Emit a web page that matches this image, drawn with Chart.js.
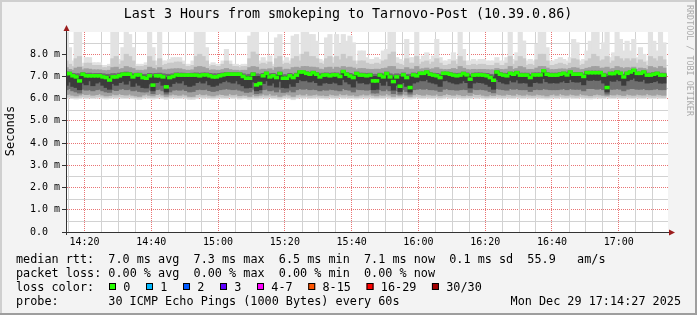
<!DOCTYPE html>
<html>
<head>
<meta charset="utf-8">
<title>Last 3 Hours from smokeping to Tarnovo-Post</title>
<script src="https://cdn.jsdelivr.net/npm/chart.js@4.4.1/dist/chart.umd.min.js"></script>
<style>
    html, body { margin: 0; padding: 0; background: #f3f3f3; }
    canvas { display: block; }
</style>
</head>
<body>
<canvas id="smoke-chart" width="697" height="315"></canvas>
<script>
/**
 * Smokeping latency graph - last 3 hours, one rrd step per minute
 */

// Graph window 14:14:27 -> 17:14:27 (minutes since midnight)
const FIRST_STEP = 14 * 60 + 14.5;   // centre of the first step (14:14-14:15)
const X_MIN = 14 * 60 + 14.45;
const X_MAX = 17 * 60 + 14.75;
const Y_MAX = 9.0;

// Tick labels
const xTickLabels = ['14:20', '14:40', '15:00', '15:20', '15:40', '16:00', '16:20', '16:40', '17:00'];
const yTickLabels = ['0.0  ', '1.0 m', '2.0 m', '3.0 m', '4.0 m', '5.0 m', '6.0 m', '7.0 m', '8.0 m'];

// Median rtt per minute (ms)
const median = [
    7.13, 7.13, 7.03, 6.98, 6.80, 7.10, 7.03, 7.03, 7.03, 7.03,
    7.03, 6.98, 6.95, 6.84, 6.98, 6.98, 7.03, 7.10, 7.10, 7.10,
    6.98, 7.07, 7.07, 6.95, 6.92, 7.03, 6.61, 7.03, 7.03, 6.98,
    6.53, 6.95, 7.00, 7.07, 7.06, 7.06, 7.06, 7.06, 7.06, 7.06,
    7.03, 7.07, 7.07, 7.03, 6.98, 6.98, 7.03, 7.07, 7.10, 7.10,
    7.10, 7.10, 7.10, 7.00, 6.92, 6.92, 7.10, 6.62, 6.68, 7.03,
    7.14, 6.98, 7.03, 6.95, 7.13, 6.92, 6.92, 7.03, 6.95, 7.06,
    7.20, 7.20, 7.14, 7.10, 7.17, 7.10, 6.98, 7.06, 7.07, 7.03,
    7.07, 7.07, 7.00, 7.22, 7.10, 7.02, 6.95, 7.13, 7.06, 7.06,
    7.03, 7.06, 6.80, 6.80, 7.06, 6.98, 7.13, 6.98, 6.77, 6.98,
    6.56, 7.07, 6.95, 6.50, 7.07, 7.03, 7.14, 7.14, 7.20, 7.10,
    7.06, 7.03, 6.95, 7.14, 7.14, 7.10, 7.06, 7.03, 7.06, 7.13,
    7.07, 6.88, 7.06, 7.07, 7.07, 7.06, 7.03, 6.95, 6.83, 7.20,
    7.10, 7.06, 7.03, 7.14, 7.10, 7.17, 7.06, 7.06, 7.06, 6.95,
    7.07, 7.07, 7.07, 7.25, 7.10, 7.06, 7.06, 7.06, 7.10, 7.14,
    7.07, 7.20, 7.10, 7.10, 7.10, 7.00, 7.17, 7.17, 7.17, 7.17,
    7.17, 7.06, 6.50, 7.13, 7.13, 7.20, 7.14, 6.98, 7.14, 7.20,
    7.28, 7.14, 7.14, 7.20, 7.06, 7.06, 7.10, 7.14, 7.06, 7.06
];

// Smoke: slowest ping per minute (graph is clipped at 9 ms)
const smokeMax = [
    9.0, 8.3, 7.7, 9.0, 9.0, 7.6, 7.85, 7.85, 7.62, 7.62,
    7.62, 7.5, 7.5, 7.55, 9.0, 9.0, 7.77, 8.3, 9.0, 8.89,
    8.3, 7.55, 7.55, 7.55, 7.62, 9.0, 8.3, 7.7, 9.0, 7.7,
    7.7, 7.77, 7.85, 7.85, 7.85, 7.7, 7.55, 7.55, 7.7, 9.0,
    9.0, 9.0, 8.3, 7.55, 7.62, 7.55, 7.55, 7.7, 8.22, 7.7,
    7.55, 7.55, 7.47, 7.55, 7.55, 8.82, 9.0, 9.0, 7.7, 7.85,
    7.7, 7.92, 7.55, 8.74, 8.89, 7.7, 7.85, 7.7, 8.82, 8.89,
    8.0, 9.0, 9.0, 8.89, 8.89, 8.59, 7.77, 7.7, 8.74, 8.89,
    7.85, 8.89, 8.45, 8.89, 8.59, 8.82, 8.52, 7.7, 8.15, 8.15,
    7.85, 7.77, 7.77, 7.85, 7.77, 8.15, 8.22, 9.0, 9.0, 7.85,
    7.77, 7.7, 8.67, 7.85, 7.85, 9.0, 7.77, 7.92, 8.07, 7.77,
    7.92, 8.67, 7.85, 7.7, 7.7, 7.77, 8.07, 7.77, 9.0, 8.22,
    7.7, 7.7, 7.77, 7.7, 7.77, 7.77, 7.7, 7.7, 7.7, 7.85,
    7.7, 7.7, 7.85, 9.0, 7.77, 8.07, 9.0, 8.6, 7.7, 7.77,
    7.7, 8.45, 9.0, 9.0, 8.3, 7.7, 7.7, 7.77, 7.85, 7.77,
    7.7, 7.85, 8.67, 8.52, 7.7, 7.77, 8.15, 8.59, 9.0, 9.0,
    8.22, 8.52, 9.0, 7.85, 8.07, 9.0, 8.67, 8.15, 8.59, 8.15,
    8.67, 7.85, 8.3, 8.0, 7.7, 9.0, 8.59, 8.15, 9.0, 8.52
];

// Smoke: fastest ping per minute
const smokeMin = [
    6.0, 6.02, 6.0, 5.98, 6.0, 6.03, 6.0, 6.02, 6.0, 6.01,
    6.03, 6.0, 5.98, 6.0, 6.02, 6.0, 6.03, 6.0, 6.0, 6.02,
    6.0, 5.98, 5.96, 6.0, 6.02, 6.0, 5.98, 6.0, 6.03, 6.0,
    5.96, 6.0, 6.02, 6.0, 6.0, 6.02, 6.0, 5.96, 5.96, 6.0,
    6.03, 6.0, 6.02, 6.0, 5.98, 6.0, 6.02, 6.0, 6.0, 6.03,
    6.0, 6.02, 5.98, 6.0, 6.0, 5.96, 6.0, 5.98, 6.0, 6.02,
    6.0, 6.03, 6.0, 6.0, 5.96, 6.0, 6.02, 6.0, 5.95, 6.0,
    6.02, 6.0, 6.03, 6.0, 6.0, 6.02, 6.0, 6.0, 5.98, 6.02,
    6.0, 6.0, 6.03, 6.0, 6.02, 6.0, 6.0, 5.98, 6.0, 6.02,
    6.0, 6.02, 6.0, 5.98, 6.0, 6.0, 6.03, 6.0, 5.97, 6.0,
    6.0, 6.02, 6.0, 5.98, 6.0, 6.03, 6.0, 6.0, 6.02, 6.0,
    6.0, 6.02, 5.98, 6.0, 6.03, 6.0, 6.0, 6.02, 6.0, 5.98,
    6.0, 6.0, 6.03, 6.0, 6.02, 6.0, 5.98, 6.0, 6.0, 6.02,
    6.0, 6.0, 6.02, 6.0, 6.0, 6.03, 6.0, 6.0, 6.02, 6.0,
    6.0, 6.02, 6.0, 6.0, 5.98, 6.0, 6.02, 6.0, 6.03, 6.0,
    6.0, 6.02, 6.0, 6.0, 6.03, 6.0, 6.0, 5.98, 6.0, 6.02,
    6.0, 6.0, 6.03, 6.0, 6.0, 6.02, 6.0, 6.0, 6.02, 6.0,
    6.0, 6.02, 6.0, 6.0, 6.03, 6.0, 6.0, 6.02, 6.0, 6.0
];

// Smoke: outer quantile band (low / high edge)
const band2Low = [
    6.06, 6.08, 6.05, 6.04, 6.06, 6.09, 6.06, 6.08, 6.05, 6.07,
    6.09, 6.06, 6.04, 6.05, 6.08, 6.06, 6.09, 6.06, 6.05, 6.08,
    6.06, 6.04, 6.03, 6.06, 6.08, 6.05, 6.04, 6.06, 6.09, 6.06,
    6.03, 6.06, 6.08, 6.06, 6.05, 6.08, 6.06, 6.03, 6.03, 6.06,
    6.09, 6.06, 6.08, 6.05, 6.04, 6.06, 6.08, 6.06, 6.05, 6.09,
    6.06, 6.08, 6.04, 6.06, 6.05, 6.03, 6.06, 6.04, 6.06, 6.08,
    6.06, 6.09, 6.05, 6.06, 6.03, 6.06, 6.08, 6.05, 6.02, 6.06,
    6.08, 6.06, 6.09, 6.05, 6.06, 6.08, 6.06, 6.05, 6.04, 6.08,
    6.06, 6.05, 6.09, 6.06, 6.08, 6.05, 6.06, 6.04, 6.06, 6.08,
    6.06, 6.08, 6.05, 6.04, 6.06, 6.05, 6.09, 6.06, 6.03, 6.06,
    6.05, 6.08, 6.06, 6.04, 6.06, 6.09, 6.06, 6.05, 6.08, 6.06,
    6.05, 6.08, 6.04, 6.06, 6.09, 6.06, 6.05, 6.08, 6.06, 6.04,
    6.06, 6.05, 6.09, 6.06, 6.08, 6.05, 6.04, 6.06, 6.05, 6.08,
    6.06, 6.05, 6.08, 6.06, 6.05, 6.09, 6.06, 6.05, 6.08, 6.06,
    6.05, 6.08, 6.06, 6.05, 6.04, 6.06, 6.08, 6.05, 6.09, 6.06,
    6.05, 6.08, 6.06, 6.05, 6.09, 6.06, 6.05, 6.04, 6.06, 6.08,
    6.06, 6.05, 6.09, 6.06, 6.05, 6.08, 6.06, 6.05, 6.08, 6.06,
    6.05, 6.08, 6.06, 6.05, 6.09, 6.06, 6.05, 6.08, 6.06, 6.05
];
const band2High = [
    7.7, 7.55, 7.45, 7.8, 7.9, 7.45, 7.6, 7.6, 7.5, 7.5,
    7.5, 7.4, 7.4, 7.45, 7.8, 7.9, 7.55, 7.7, 8.0, 7.9,
    7.7, 7.45, 7.45, 7.45, 7.5, 7.9, 7.7, 7.5, 7.8, 7.5,
    7.55, 7.6, 7.6, 7.65, 7.65, 7.55, 7.45, 7.45, 7.5, 7.9,
    8.0, 7.9, 7.7, 7.45, 7.5, 7.45, 7.45, 7.55, 7.7, 7.55,
    7.45, 7.45, 7.4, 7.45, 7.45, 7.8, 8.1, 8.0, 7.55, 7.6,
    7.55, 7.65, 7.45, 7.8, 7.9, 7.55, 7.6, 7.55, 7.8, 7.9,
    7.7, 8.0, 8.1, 7.9, 7.9, 7.8, 7.6, 7.55, 7.8, 7.9,
    7.6, 7.9, 7.75, 8.0, 7.8, 7.9, 7.7, 7.55, 7.7, 7.7,
    7.6, 7.55, 7.55, 7.6, 7.55, 7.7, 7.75, 8.0, 8.1, 7.6,
    7.55, 7.5, 7.8, 7.6, 7.6, 7.9, 7.55, 7.65, 7.7, 7.55,
    7.65, 7.8, 7.6, 7.5, 7.5, 7.55, 7.7, 7.55, 7.9, 7.7,
    7.5, 7.5, 7.55, 7.5, 7.55, 7.55, 7.5, 7.5, 7.5, 7.6,
    7.5, 7.5, 7.6, 7.9, 7.55, 7.7, 7.9, 7.8, 7.5, 7.55,
    7.5, 7.75, 8.0, 8.0, 7.7, 7.5, 7.5, 7.55, 7.6, 7.55,
    7.5, 7.6, 7.8, 7.75, 7.5, 7.55, 7.7, 7.8, 8.0, 7.9,
    7.7, 7.75, 7.9, 7.6, 7.7, 7.9, 7.8, 7.7, 7.8, 7.7,
    7.8, 7.6, 7.75, 7.65, 7.5, 7.9, 7.8, 7.7, 7.9, 7.75
];

// Smoke: middle quantile band
const band3Low = [
    6.18, 6.2, 6.15, 6.12, 6.16, 6.22, 6.18, 6.2, 6.15, 6.18,
    6.22, 6.16, 6.12, 6.14, 6.2, 6.17, 6.22, 6.18, 6.16, 6.2,
    6.15, 6.12, 6.1, 6.16, 6.2, 6.15, 6.12, 6.18, 6.22, 6.16,
    6.1, 6.16, 6.2, 6.17, 6.15, 6.2, 6.16, 6.1, 6.1, 6.18,
    6.22, 6.17, 6.2, 6.15, 6.12, 6.16, 6.2, 6.18, 6.15, 6.22,
    6.17, 6.2, 6.13, 6.16, 6.15, 6.1, 6.18, 6.12, 6.15, 6.2,
    6.16, 6.22, 6.15, 6.17, 6.1, 6.15, 6.2, 6.16, 6.1, 6.17,
    6.2, 6.16, 6.22, 6.15, 6.17, 6.2, 6.15, 6.16, 6.13, 6.2,
    6.17, 6.15, 6.22, 6.17, 6.2, 6.15, 6.17, 6.12, 6.16, 6.2,
    6.16, 6.2, 6.15, 6.12, 6.17, 6.15, 6.22, 6.16, 6.1, 6.17,
    6.12, 6.2, 6.16, 6.1, 6.17, 6.22, 6.18, 6.15, 6.2, 6.17,
    6.15, 6.2, 6.13, 6.17, 6.22, 6.18, 6.15, 6.2, 6.17, 6.13,
    6.17, 6.14, 6.22, 6.18, 6.2, 6.15, 6.12, 6.17, 6.14, 6.2,
    6.17, 6.15, 6.2, 6.18, 6.15, 6.22, 6.17, 6.15, 6.2, 6.16,
    6.15, 6.2, 6.17, 6.16, 6.12, 6.17, 6.2, 6.15, 6.22, 6.17,
    6.15, 6.2, 6.17, 6.15, 6.22, 6.17, 6.16, 6.13, 6.17, 6.2,
    6.17, 6.15, 6.12, 6.18, 6.16, 6.2, 6.17, 6.14, 6.2, 6.17,
    6.15, 6.2, 6.17, 6.16, 6.22, 6.17, 6.15, 6.2, 6.17, 6.15
];
const band3High = [
    7.4, 7.32, 7.28, 7.38, 7.42, 7.3, 7.35, 7.33, 7.3, 7.3,
    7.3, 7.27, 7.26, 7.28, 7.4, 7.42, 7.32, 7.36, 7.45, 7.4,
    7.36, 7.28, 7.28, 7.27, 7.3, 7.42, 7.36, 7.3, 7.4, 7.3,
    7.3, 7.33, 7.34, 7.35, 7.35, 7.31, 7.28, 7.28, 7.3, 7.42,
    7.45, 7.42, 7.36, 7.28, 7.3, 7.28, 7.28, 7.31, 7.36, 7.31,
    7.28, 7.28, 7.26, 7.28, 7.28, 7.4, 7.45, 7.42, 7.3, 7.33,
    7.31, 7.35, 7.28, 7.4, 7.42, 7.3, 7.33, 7.31, 7.4, 7.42,
    7.38, 7.45, 7.45, 7.42, 7.42, 7.4, 7.33, 7.31, 7.4, 7.42,
    7.33, 7.42, 7.38, 7.45, 7.4, 7.42, 7.38, 7.31, 7.36, 7.36,
    7.33, 7.32, 7.32, 7.33, 7.32, 7.36, 7.38, 7.45, 7.45, 7.33,
    7.32, 7.31, 7.4, 7.33, 7.33, 7.45, 7.33, 7.35, 7.38, 7.32,
    7.35, 7.4, 7.33, 7.31, 7.31, 7.32, 7.36, 7.32, 7.45, 7.37,
    7.31, 7.3, 7.32, 7.31, 7.32, 7.32, 7.31, 7.3, 7.3, 7.36,
    7.32, 7.31, 7.33, 7.45, 7.32, 7.36, 7.45, 7.4, 7.31, 7.32,
    7.31, 7.38, 7.45, 7.45, 7.38, 7.31, 7.31, 7.32, 7.34, 7.34,
    7.31, 7.36, 7.4, 7.38, 7.31, 7.32, 7.37, 7.4, 7.45, 7.45,
    7.37, 7.38, 7.42, 7.34, 7.36, 7.45, 7.4, 7.36, 7.4, 7.38,
    7.42, 7.33, 7.38, 7.36, 7.31, 7.45, 7.4, 7.36, 7.45, 7.38
];

// Smoke: inner band
const coreLow = [
    6.4, 6.45, 6.35, 6.3, 6.25, 6.42, 6.38, 6.4, 6.35, 6.4,
    6.42, 6.35, 6.3, 6.28, 6.4, 6.36, 6.42, 6.45, 6.4, 6.42,
    6.35, 6.38, 6.32, 6.3, 6.3, 6.38, 6.22, 6.4, 6.42, 6.35,
    6.2, 6.3, 6.38, 6.4, 6.38, 6.42, 6.36, 6.3, 6.32, 6.4,
    6.42, 6.4, 6.42, 6.36, 6.32, 6.35, 6.4, 6.42, 6.45, 6.42,
    6.4, 6.42, 6.38, 6.34, 6.28, 6.3, 6.42, 6.22, 6.25, 6.4,
    6.42, 6.35, 6.38, 6.3, 6.42, 6.28, 6.3, 6.38, 6.3, 6.4,
    6.45, 6.42, 6.45, 6.4, 6.42, 6.4, 6.35, 6.4, 6.38, 6.42,
    6.4, 6.38, 6.35, 6.45, 6.4, 6.38, 6.3, 6.42, 6.4, 6.4,
    6.38, 6.4, 6.25, 6.25, 6.4, 6.35, 6.42, 6.35, 6.22, 6.35,
    6.2, 6.4, 6.32, 6.2, 6.4, 6.42, 6.45, 6.42, 6.45, 6.4,
    6.4, 6.38, 6.32, 6.42, 6.45, 6.4, 6.4, 6.38, 6.4, 6.42,
    6.4, 6.28, 6.42, 6.4, 6.42, 6.4, 6.38, 6.32, 6.26, 6.45,
    6.42, 6.4, 6.38, 6.45, 6.42, 6.45, 6.4, 6.4, 6.4, 6.32,
    6.4, 6.42, 6.4, 6.45, 6.42, 6.4, 6.4, 6.4, 6.42, 6.45,
    6.4, 6.45, 6.42, 6.42, 6.42, 6.35, 6.45, 6.45, 6.45, 6.42,
    6.45, 6.4, 6.2, 6.42, 6.42, 6.45, 6.42, 6.35, 6.42, 6.45,
    6.45, 6.42, 6.42, 6.45, 6.4, 6.4, 6.42, 6.45, 6.4, 6.4
];
const coreHigh = [
    7.2, 7.2, 7.14, 7.12, 7.12, 7.18, 7.14, 7.15, 7.13, 7.14,
    7.14, 7.12, 7.1, 7.1, 7.13, 7.12, 7.15, 7.18, 7.2, 7.18,
    7.12, 7.15, 7.15, 7.1, 7.1, 7.14, 7.12, 7.14, 7.15, 7.12,
    7.1, 7.1, 7.12, 7.16, 7.15, 7.15, 7.14, 7.14, 7.15, 7.16,
    7.14, 7.16, 7.16, 7.14, 7.12, 7.12, 7.14, 7.16, 7.18, 7.18,
    7.18, 7.18, 7.17, 7.12, 7.08, 7.1, 7.18, 7.12, 7.1, 7.14,
    7.2, 7.12, 7.14, 7.1, 7.2, 7.08, 7.08, 7.14, 7.1, 7.15,
    7.26, 7.26, 7.22, 7.18, 7.24, 7.18, 7.12, 7.15, 7.16, 7.14,
    7.16, 7.16, 7.12, 7.28, 7.18, 7.14, 7.1, 7.2, 7.15, 7.15,
    7.14, 7.15, 7.1, 7.1, 7.15, 7.12, 7.2, 7.12, 7.08, 7.12,
    7.1, 7.16, 7.1, 7.1, 7.16, 7.14, 7.2, 7.2, 7.26, 7.18,
    7.15, 7.14, 7.1, 7.2, 7.2, 7.18, 7.15, 7.14, 7.15, 7.2,
    7.16, 7.08, 7.15, 7.16, 7.16, 7.15, 7.14, 7.1, 7.08, 7.26,
    7.18, 7.15, 7.14, 7.2, 7.18, 7.24, 7.15, 7.15, 7.15, 7.1,
    7.16, 7.16, 7.16, 7.3, 7.18, 7.15, 7.15, 7.15, 7.18, 7.2,
    7.16, 7.26, 7.18, 7.18, 7.18, 7.12, 7.24, 7.24, 7.24, 7.24,
    7.24, 7.15, 7.1, 7.2, 7.2, 7.26, 7.2, 7.1, 7.2, 7.26,
    7.32, 7.2, 7.2, 7.26, 7.15, 7.15, 7.18, 7.2, 7.15, 7.15
];

// Smoke: darkest band around the median
const innerLow = [
    6.6, 6.75, 6.55, 6.5, 6.4, 6.7, 6.62, 6.8, 6.58, 6.7,
    6.75, 6.6, 6.5, 6.42, 6.68, 6.6, 6.72, 6.78, 6.65, 6.8,
    6.55, 6.7, 6.6, 6.5, 6.48, 6.66, 6.35, 6.72, 6.78, 6.6,
    6.3, 6.55, 6.68, 6.75, 6.7, 6.8, 6.62, 6.55, 6.6, 6.72,
    6.78, 6.7, 6.8, 6.62, 6.55, 6.6, 6.7, 6.76, 6.82, 6.75,
    6.7, 6.8, 6.66, 6.58, 6.48, 6.5, 6.75, 6.35, 6.4, 6.68,
    6.8, 6.6, 6.7, 6.52, 6.78, 6.5, 6.48, 6.66, 6.55, 6.72,
    6.85, 6.8, 6.82, 6.75, 6.8, 6.72, 6.6, 6.7, 6.72, 6.68,
    6.74, 6.7, 6.62, 6.86, 6.75, 6.66, 6.52, 6.8, 6.7, 6.72,
    6.66, 6.7, 6.4, 6.42, 6.72, 6.6, 6.78, 6.58, 6.38, 6.6,
    6.32, 6.72, 6.55, 6.3, 6.7, 6.75, 6.82, 6.8, 6.86, 6.74,
    6.7, 6.66, 6.55, 6.8, 6.82, 6.75, 6.7, 6.66, 6.7, 6.8,
    6.72, 6.48, 6.7, 6.74, 6.72, 6.7, 6.64, 6.55, 6.42, 6.86,
    6.76, 6.7, 6.66, 6.82, 6.75, 6.84, 6.7, 6.72, 6.7, 6.55,
    6.72, 6.74, 6.7, 6.9, 6.76, 6.7, 6.72, 6.7, 6.75, 6.8,
    6.72, 6.86, 6.76, 6.74, 6.76, 6.62, 6.84, 6.82, 6.85, 6.82,
    6.84, 6.7, 6.3, 6.8, 6.78, 6.86, 6.8, 6.6, 6.8, 6.86,
    6.92, 6.8, 6.78, 6.86, 6.7, 6.72, 6.76, 6.8, 6.7, 6.7
];
const innerHigh = [
    7.15, 7.16, 7.08, 7.04, 7.0, 7.13, 7.08, 7.08, 7.07, 7.08,
    7.08, 7.04, 7.02, 6.98, 7.04, 7.04, 7.08, 7.13, 7.15, 7.14,
    7.04, 7.1, 7.1, 7.02, 7.0, 7.08, 7.0, 7.08, 7.08, 7.04,
    6.95, 7.02, 7.05, 7.1, 7.1, 7.1, 7.1, 7.1, 7.1, 7.1,
    7.08, 7.1, 7.1, 7.08, 7.04, 7.04, 7.08, 7.1, 7.13, 7.13,
    7.13, 7.13, 7.13, 7.05, 7.0, 7.0, 7.13, 7.0, 7.0, 7.08,
    7.16, 7.04, 7.08, 7.02, 7.16, 7.0, 7.0, 7.08, 7.02, 7.1,
    7.22, 7.22, 7.17, 7.13, 7.2, 7.13, 7.04, 7.1, 7.1, 7.08,
    7.1, 7.1, 7.05, 7.24, 7.13, 7.07, 7.02, 7.16, 7.1, 7.1,
    7.08, 7.1, 7.0, 7.0, 7.1, 7.04, 7.16, 7.04, 6.98, 7.04,
    7.0, 7.1, 7.02, 7.0, 7.1, 7.08, 7.17, 7.17, 7.22, 7.13,
    7.1, 7.08, 7.02, 7.17, 7.17, 7.13, 7.1, 7.08, 7.1, 7.16,
    7.1, 7.0, 7.1, 7.1, 7.1, 7.1, 7.08, 7.02, 6.98, 7.22,
    7.13, 7.1, 7.08, 7.17, 7.13, 7.2, 7.1, 7.1, 7.1, 7.02,
    7.1, 7.1, 7.1, 7.27, 7.13, 7.1, 7.1, 7.1, 7.13, 7.17,
    7.1, 7.22, 7.13, 7.13, 7.13, 7.05, 7.2, 7.2, 7.2, 7.2,
    7.2, 7.1, 7.0, 7.16, 7.16, 7.22, 7.17, 7.04, 7.17, 7.22,
    7.3, 7.17, 7.17, 7.22, 7.1, 7.1, 7.13, 7.17, 7.1, 7.1
];

// Texts around the graph
const TITLE = 'Last 3 Hours from smokeping to Tarnovo-Post (10.39.0.86)';
const Y_TITLE = 'Seconds';
const WATERMARK = 'RRDTOOL / TOBI OETIKER';
const statsRows = [
    'median rtt:  7.0 ms avg  7.3 ms max  6.5 ms min  7.1 ms now  0.1 ms sd  55.9   am/s',
    'packet loss: 0.00 % avg  0.00 % max  0.00 % min  0.00 % now'
];
const lossLabels = ['0', '1', '2', '3', '4-7', '8-15', '16-29', '30/30'];
const lossColors = ['#26ff00', '#00b8ff', '#0059ff', '#5e00ff', '#ff00ff', '#ff5500', '#ff0000', '#a10000'];
const PROBE = '30 ICMP Echo Pings (1000 Bytes) every 60s';
const STAMP = 'Mon Dec 29 17:14:27 2025';

const MONO = '"DejaVu Sans Mono", "Liberation Mono", monospace';
const MAJOR_GRID = 'rgba(225, 70, 70, 0.75)';
const MINOR_GRID = '#d2d2d2';
Chart.defaults.font.family = MONO;
Chart.defaults.color = '#000';

// grid positions: every 5 minutes / every 0.5 ms
const xGridMinutes = [];
for (let m = 855; m <= 1030; m += 5) xGridMinutes.push(m);
const yGridValues = [];
for (let v = 0; v < Y_MAX; v += 0.5) yGridValues.push(v);

/**
 * Turn two edge arrays into floating bar points, one per minute
 */
function band(low, high) {
    return low.map((v, i) => ({ x: FIRST_STEP + i, y: [v, high[i]] }));
}

function minuteLabel(m) {
    const h = Math.floor(m / 60);
    const mm = m % 60;
    return h + ':' + String(mm).padStart(2, '0');
}

function isMajorMinute(m) {
    return xTickLabels.includes(minuteLabel(m));
}

const barCommon = {
    type: 'bar',
    grouped: false,
    barThickness: 4.5,
    borderWidth: 0
};

// Minor (light grey) grid lines, placed with the chart's own scales
const minorGrid = {
    id: 'minorGrid',
    beforeDatasetsDraw(chart) {
        const { ctx, chartArea: a, scales } = chart;
        ctx.save();
        ctx.strokeStyle = MINOR_GRID;
        ctx.lineWidth = 1;
        ctx.beginPath();
        xGridMinutes.forEach(m => {
            if (isMajorMinute(m)) return;
            const px = Math.round(scales.x.getPixelForValue(m)) + 0.5;
            ctx.moveTo(px, a.top);
            ctx.lineTo(px, a.bottom);
        });
        yGridValues.forEach(v => {
            if (Number.isInteger(v)) return;
            const py = Math.round(scales.y.getPixelForValue(v)) + 0.5;
            ctx.moveTo(a.left, py);
            ctx.lineTo(a.right, py);
        });
        ctx.stroke();
        ctx.restore();
    }
};

// Frame, background, axis arrows and all the rrdtool text
const rrdDecor = {
    id: 'rrdDecor',
    beforeDraw(chart) {
        const { ctx, chartArea: a, width, height } = chart;
        ctx.save();
        ctx.fillStyle = '#f3f3f3';
        ctx.fillRect(0, 0, width, height);
        ctx.fillStyle = '#ffffff';
        ctx.fillRect(a.left, a.top, a.right - a.left, a.bottom - a.top);
        // 3D frame
        ctx.fillStyle = '#cfcfcf';
        ctx.fillRect(0, 0, width, 2);
        ctx.fillRect(0, 0, 2, height);
        ctx.fillStyle = '#9e9e9e';
        ctx.fillRect(0, height - 2, width, 2);
        ctx.fillRect(width - 2, 0, 2, height);
        ctx.restore();
    },
    afterDraw(chart) {
        const { ctx, chartArea: a } = chart;
        ctx.save();

        // axis extensions + arrows
        ctx.strokeStyle = '#333';
        ctx.lineWidth = 1;
        ctx.beginPath();
        ctx.moveTo(a.left - 4, a.bottom + 0.5);
        ctx.lineTo(a.right + 2, a.bottom + 0.5);
        ctx.moveTo(a.left + 0.5, a.bottom + 3);
        ctx.lineTo(a.left + 0.5, a.top - 2);
        ctx.stroke();

        ctx.fillStyle = '#9b1c1c';
        ctx.beginPath();
        ctx.moveTo(a.left - 2.5, a.top - 1);
        ctx.lineTo(a.left + 3.5, a.top - 1);
        ctx.lineTo(a.left + 0.5, a.top - 7);
        ctx.closePath();
        ctx.fill();
        ctx.beginPath();
        ctx.moveTo(a.right + 1, a.bottom - 2.5);
        ctx.lineTo(a.right + 1, a.bottom + 3.5);
        ctx.lineTo(a.right + 7, a.bottom + 0.5);
        ctx.closePath();
        ctx.fill();

        // title
        ctx.fillStyle = '#000';
        ctx.font = '13.3px ' + MONO;
        ctx.textAlign = 'center';
        ctx.textBaseline = 'alphabetic';
        ctx.fillText(TITLE, 348, 18);

        // vertical axis title
        ctx.save();
        ctx.translate(10.5, 131);
        ctx.rotate(-Math.PI / 2);
        ctx.font = '12px ' + MONO;
        ctx.textBaseline = 'middle';
        ctx.fillText(Y_TITLE, 0, 0);
        ctx.restore();

        // watermark on the right
        ctx.save();
        ctx.translate(689, 5);
        ctx.rotate(Math.PI / 2);
        ctx.font = '8.4px ' + MONO;
        ctx.fillStyle = '#ababab';
        ctx.textAlign = 'left';
        ctx.textBaseline = 'middle';
        ctx.fillText(WATERMARK, 0, 0);
        ctx.restore();

        // legend rows
        ctx.font = '11.8px ' + MONO;
        ctx.textAlign = 'left';
        ctx.fillStyle = '#000';
        ctx.fillText(statsRows[0], 16, 263);
        ctx.fillText(statsRows[1], 16, 277);
        ctx.fillText('loss color:', 16, 291);

        let x = 109;
        lossLabels.forEach((label, i) => {
            ctx.fillStyle = lossColors[i];
            ctx.fillRect(x, 283, 7, 7);
            ctx.strokeStyle = '#000';
            ctx.strokeRect(x + 0.5, 283.5, 6, 6);
            ctx.fillStyle = '#000';
            const tx = x + 14.3;
            ctx.fillText(label, tx, 291);
            x = tx + ctx.measureText(label).width + 15.6;
        });

        ctx.fillText('probe:', 16, 305);
        ctx.fillText(PROBE, 108.3, 305);
        ctx.textAlign = 'right';
        ctx.fillText(STAMP, 681, 305);

        ctx.restore();
    }
};

const ctx = document.getElementById('smoke-chart').getContext('2d');

new Chart(ctx, {
    type: 'bar',
    data: {
        datasets: [
            { ...barCommon, order: 0, data: band(median.map(m => m - 0.065), median.map(m => m + 0.065)), backgroundColor: '#26ff00' },
            { ...barCommon, order: 1, data: band(innerLow, innerHigh), backgroundColor: '#3c3c3c' },
            { ...barCommon, order: 2, data: band(coreLow, coreHigh), backgroundColor: '#6e6e6e' },
            { ...barCommon, order: 3, data: band(band3Low, band3High), backgroundColor: '#a0a0a0' },
            { ...barCommon, order: 4, data: band(band2Low, band2High), backgroundColor: '#c9c9c9' },
            { ...barCommon, order: 5, data: band(smokeMin, smokeMax), backgroundColor: '#e2e2e2' }
        ]
    },
    options: {
        responsive: false,
        animation: false,
        devicePixelRatio: 1,
        layout: { padding: { top: 32, right: 29, bottom: 0, left: 0 } },
        plugins: {
            legend: { display: false },
            tooltip: { enabled: false },
            title: { display: false }
        },
        scales: {
            x: {
                type: 'linear',
                min: X_MIN,
                max: X_MAX,
                offset: false,
                afterBuildTicks: scale => {
                    scale.ticks = xGridMinutes.map(m => ({ value: m }));
                },
                afterFit: scale => { scale.height = 83; },
                grid: {
                    drawTicks: false,
                    offset: false,
                    color: c => (c.tick && isMajorMinute(c.tick.value)) ? MAJOR_GRID : 'rgba(0,0,0,0)'
                },
                border: { display: true, color: '#333', width: 1, dash: [1, 1] },
                ticks: {
                    autoSkip: false,
                    maxRotation: 0,
                    padding: 4,
                    font: { size: 10 },
                    color: '#000',
                    callback: v => isMajorMinute(v) ? minuteLabel(v) : ' '
                }
            },
            y: {
                min: 0,
                max: Y_MAX,
                afterBuildTicks: scale => {
                    scale.ticks = yGridValues.map(v => ({ value: v }));
                },
                afterFit: scale => { scale.width = 66; },
                grid: {
                    tickLength: 4,
                    tickBorderDash: [],
                    tickColor: c => (c.tick && Number.isInteger(c.tick.value)) ? '#333' : 'rgba(0,0,0,0)',
                    color: c => (c.tick && Number.isInteger(c.tick.value)) ? MAJOR_GRID : 'rgba(0,0,0,0)'
                },
                border: { display: true, color: '#333', width: 1, dash: [1, 1] },
                ticks: {
                    autoSkip: false,
                    padding: 2,
                    font: { size: 10 },
                    color: '#000',
                    callback: v => Number.isInteger(v) ? yTickLabels[v] : ' '
                }
            }
        }
    },
    plugins: [minorGrid, rrdDecor]
});
</script>
</body>
</html>
